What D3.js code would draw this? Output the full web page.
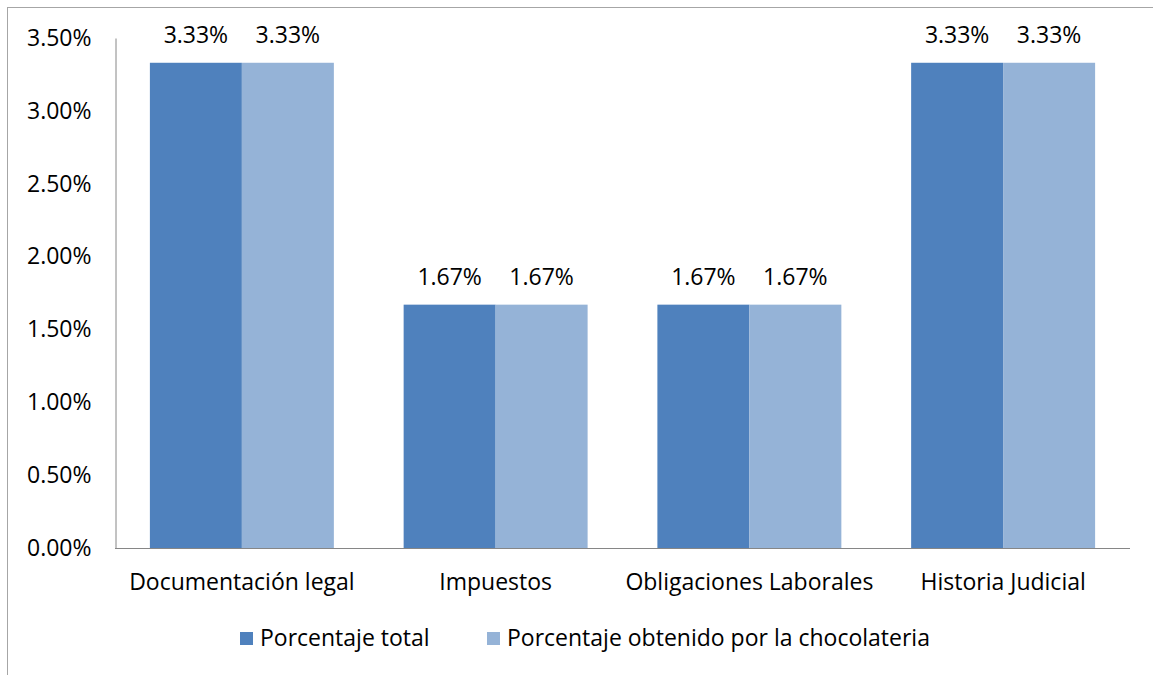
<!DOCTYPE html>
<html>
<head>
<meta charset="utf-8">
<script src="https://cdn.jsdelivr.net/npm/d3@7"></script>
<style>
  html, body { margin: 0; padding: 0; background: #fff; }
  svg { display: block; }
  text { font-family: "Open Sans", sans-serif; fill: #000; }
</style>
</head>
<body>
<svg id="chart" width="1153" height="675"></svg>
<script>
const categories = ["Documentación legal", "Impuestos", "Obligaciones Laborales", "Historia Judicial"];
const seriesNames = ["Porcentaje total", "Porcentaje obtenido por la chocolateria"];
const porcentajeTotal = [3.33, 1.67, 1.67, 3.33];
const porcentajeChocolateria = [3.33, 1.67, 1.67, 3.33];
const yTicks = [0, 0.5, 1.0, 1.5, 2.0, 2.5, 3.0, 3.5];
const colors = ["#4F81BD", "#95B3D7"];

const series = [porcentajeTotal, porcentajeChocolateria];
const FONT = "'Open Sans', sans-serif";
const FS = 23;

const svg = d3.select("#chart");
const W = 1153, H = 675;
const margin = { left: 115, right: 23, top: 38, bottom: 127 };

// outer chart frame (extends past the right and bottom edges)
svg.append("rect")
  .attr("x", 7.5).attr("y", 7.5)
  .attr("width", W + 20).attr("height", H + 20)
  .attr("fill", "#fff").attr("stroke", "#a6a6a6").attr("stroke-width", 1);

const x0 = d3.scaleBand()
  .domain(categories)
  .range([margin.left, W - margin.right])
  .paddingInner(0.275).paddingOuter(0.1375);

const x1 = d3.scaleBand()
  .domain(d3.range(series.length))
  .range([0, x0.bandwidth()]);

const y = d3.scaleLinear()
  .domain([0, 3.5])
  .range([H - margin.bottom, margin.top]);

// bars with value labels
categories.forEach((cat, ci) => {
  series.forEach((vals, si) => {
    svg.append("rect")
      .attr("x", x0(cat) + x1(si))
      .attr("y", y(vals[ci]))
      .attr("width", x1.bandwidth())
      .attr("height", y(0) - y(vals[ci]))
      .attr("fill", colors[si]);
    svg.append("text")
      .attr("x", x0(cat) + x1(si) + x1.bandwidth() / 2)
      .attr("y", y(vals[ci]) - 20)
      .attr("text-anchor", "middle")
      .attr("font-size", FS)
      .text(vals[ci].toFixed(2) + "%");
  });
});

// y axis
const yAxis = d3.axisLeft(y)
  .tickValues(yTicks)
  .tickSize(0)
  .tickPadding(24)
  .tickFormat(d => d.toFixed(2) + "%");
const gy = svg.append("g")
  .attr("transform", `translate(${margin.left + 0.5},0)`)
  .call(yAxis);
gy.select(".domain").attr("stroke", "#868686");
gy.selectAll("text").attr("font-size", FS).attr("font-family", FONT).attr("fill", "#000");

// x axis
const xAxis = d3.axisBottom(x0).tickSize(0).tickPadding(25);
const gx = svg.append("g")
  .attr("transform", `translate(0,${y(0) + 0.5})`)
  .call(xAxis);
gx.select(".domain").attr("stroke", "#868686").attr("d", `M${margin.left},0H${W - margin.right}`);
gx.selectAll("text").attr("font-size", FS).attr("font-family", FONT).attr("fill", "#000");

// legend
const legend = svg.append("g");
const legendX = [240, 487];
seriesNames.forEach((name, i) => {
  legend.append("rect")
    .attr("x", legendX[i]).attr("y", 632)
    .attr("width", 13).attr("height", 13)
    .attr("fill", colors[i]);
  legend.append("text")
    .attr("x", legendX[i] + 20).attr("y", 646)
    .attr("font-size", FS)
    .text(name);
});
</script>
</body>
</html>
